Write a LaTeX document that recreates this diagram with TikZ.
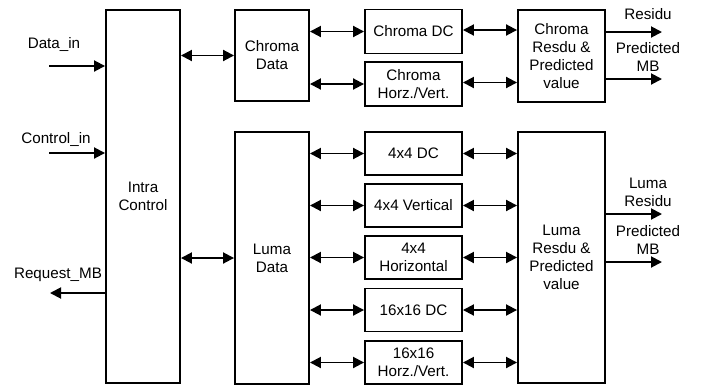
\documentclass[tikz,border=0pt]{standalone}
\usepackage{fontspec}
\setmainfont{Liberation Sans}
\usetikzlibrary{arrows.meta}
\begin{document}
\begin{tikzpicture}[x=1pt,y=-1pt,
  box/.style={draw, line width=1.9pt, inner sep=0pt, align=center,
    font=\fontsize{15.2}{18}\selectfont},
  lbl/.style={inner sep=0pt, align=center, font=\fontsize{15.2}{18}\selectfont},
  conn/.style={line width=1.9pt},
  arr/.style={conn, -{Triangle[length=11pt,width=11pt]}},
  darr/.style={conn, {Triangle[length=11pt,width=11pt]}-{Triangle[length=11pt,width=11pt]}}]
\useasboundingbox (0,0) rectangle (703,389);
% main blocks
\node[box, minimum width=74pt, minimum height=373pt] (intra) at (143,196.5) {Intra\\Control};
\node[box, minimum width=74pt, minimum height=91pt] (cdata) at (272,55.5) {Chroma\\Data};
\node[box, minimum width=74pt, minimum height=252pt] (ldata) at (272,258) {Luma\\Data};
\node[box, minimum width=97pt, minimum height=44pt] (cdc) at (413.5,31.5) {Chroma DC};
\node[box, minimum width=97pt, minimum height=44pt] (chv) at (413.5,84) {Chroma\\Horz./Vert.};
\node[box, minimum width=97pt, minimum height=43pt] (fdc) at (413.5,153.5) {4x4 DC};
\node[box, minimum width=97pt, minimum height=43pt] (fv) at (413.5,205.5) {4x4 Vertical};
\node[box, minimum width=97pt, minimum height=43pt] (fh) at (413.5,257.5) {4x4\\Horizontal};
\node[box, minimum width=97pt, minimum height=43pt] (sdc) at (413.5,310) {16x16 DC};
\node[box, minimum width=97pt, minimum height=43pt] (shv) at (413.5,362.5) {16x16\\Horz./Vert.};
\node[box, minimum width=87pt, minimum height=92pt] (cres) at (561.5,56) {Chroma\\Resdu \&\\Predicted\\value};
\node[box, minimum width=87pt, minimum height=251pt] (lres) at (561.5,257.5) {Luma\\Resdu \&\\Predicted\\value};
% external labels
\node[lbl] (ldin) at (54,44) {Data\_in};
\node[lbl] (lcin) at (56,139) {Control\_in};
\node[lbl] (lreq) at (58,275) {Request\_MB};
\node[lbl] (lcres) at (648,14) {Residu};
\node[lbl] (lcpmb) at (648,57) {Predicted\\MB};
\node[lbl] (llres) at (648,192) {Luma\\Residu};
\node[lbl] (llpmb) at (648,240) {Predicted\\MB};
% free ends
\coordinate (din) at (49,66);
\coordinate (cin) at (49,153);
\coordinate (req) at (50,293);
\coordinate (ocr) at (662,32);
\coordinate (ocp) at (662,79);
\coordinate (olr) at (662,214);
\coordinate (olp) at (662,262);
% inputs / outputs of intra
\draw[arr] (din) -- (din -| intra.west);
\draw[arr] (cin) -- (cin -| intra.west);
\draw[arr] (req -| intra.west) -- (req);
% intra to data
\draw[darr] (intra.east |- cdata.west) -- (cdata.west);
\draw[darr] (intra.east |- ldata.west) -- (ldata.west);
% data to predictors
\foreach \n in {cdc,chv} \draw[darr] (cdata.east |- \n.west) -- (\n.west);
\foreach \n in {fdc,fv,fh,sdc,shv} \draw[darr] (ldata.east |- \n.west) -- (\n.west);
% predictors to residue
\draw[darr] ([yshift=1.5pt]cdc.east) -- ([yshift=1.5pt]cdc.east -| cres.west);
\draw[darr] ([yshift=1.5pt]chv.east) -- ([yshift=1.5pt]chv.east -| cres.west);
\foreach \n in {fdc,fv,fh,sdc,shv} \draw[darr] (\n.east) -- (\n.east -| lres.west);
% outputs
\draw[arr] (ocr -| cres.east) -- (ocr);
\draw[arr] (ocp -| cres.east) -- (ocp);
\draw[arr] (olr -| lres.east) -- (olr);
\draw[arr] (olp -| lres.east) -- (olp);
\end{tikzpicture}
\end{document}
